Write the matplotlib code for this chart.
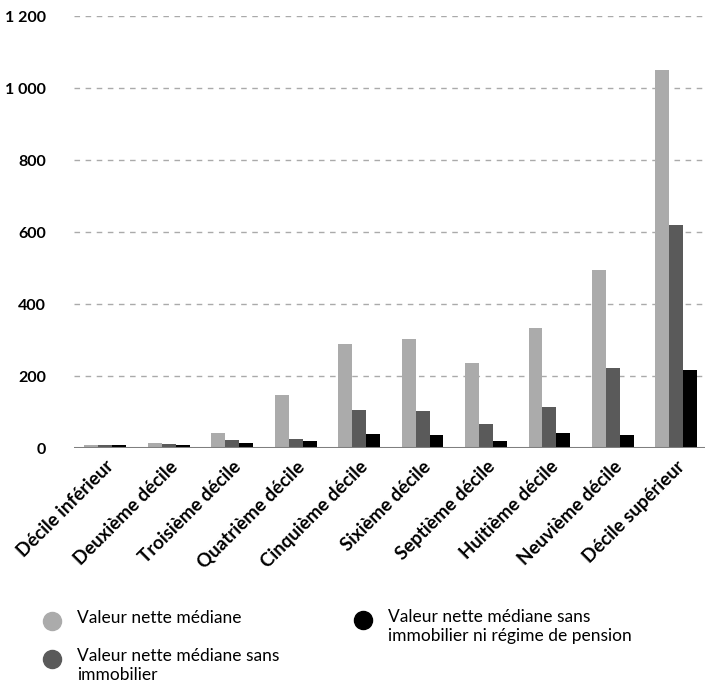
import matplotlib

matplotlib.use("Agg")
import matplotlib.pyplot as plt
import numpy as np
from matplotlib.lines import Line2D
from matplotlib.ticker import FuncFormatter

deciles = [
    "Décile inférieur",
    "Deuxième décile",
    "Troisième décile",
    "Quatrième décile",
    "Cinquième décile",
    "Sixième décile",
    "Septième décile",
    "Huitième décile",
    "Neuvième décile",
    "Décile supérieur",
]
valeur_nette = [8, 14, 41, 147, 290, 304, 235, 332, 495, 1051]
sans_immobilier = [8, 11, 22, 25, 105, 102, 66, 113, 221, 619]
sans_immobilier_pension = [8, 8, 14, 19, 39, 36, 19, 41, 36, 218]

series_labels = [
    "Valeur nette médiane",
    "Valeur nette médiane sans\nimmobilier",
    "Valeur nette médiane sans\nimmobilier ni régime de pension",
]
colors = ["#ababab", "#5a5a5a", "#000000"]

plt.rcParams["font.family"] = ["Lato", "DejaVu Sans"]

W, H = 705, 692
fig = plt.figure(figsize=(W / 100, H / 100), dpi=100)
ax = fig.add_axes([0.105, 1 - 448 / H, 0.895, (448 - 16) / H])

x = np.arange(len(deciles))
width = 0.22
for i, (vals, col) in enumerate(zip([valeur_nette, sans_immobilier, sans_immobilier_pension], colors)):
    ax.bar(x + (i - 1) * width, vals, width, color=col, zorder=3)

ax.set_ylim(0, 1200)
ax.set_xlim(-0.49, 9.45)
ax.set_yticks(range(0, 1201, 200))
ax.yaxis.set_major_formatter(FuncFormatter(lambda v, _: f"{int(v):,}".replace(",", " ")))
ax.grid(axis="y", color="#aaaaaa", linestyle=(0, (4, 4)), linewidth=1, zorder=0)
ax.axhline(0, color="#7f7f7f", linewidth=2.2, zorder=4)
for side in ["top", "right", "left", "bottom"]:
    ax.spines[side].set_visible(False)
ax.tick_params(axis="both", length=0)
ax.tick_params(axis="y", pad=20, labelsize=11.5)
for lab in ax.get_yticklabels():
    lab.set_fontweight("bold")
ax.set_xticks(x)
ax.set_xticklabels(deciles, rotation=45, ha="right", rotation_mode="anchor", fontsize=13.5, fontweight="bold")
ax.tick_params(axis="x", pad=7)

# legend drawn by hand so each marker sits on the first line of its label
marker_xy = [(52, 621), (52, 659), (363, 620)]
for (mx, my), col, label in zip(marker_xy, colors, series_labels):
    fx, fy = mx / W, 1 - my / H
    fig.add_artist(Line2D([fx], [fy], marker="o", markersize=13, color=col, linestyle="none",
                          transform=fig.transFigure))
    fig.text(fx + 25 / W, fy + 11 / H, label, fontsize=12.5, va="top", ha="left", linespacing=1.25)

fig.savefig("out.png", dpi=100)
